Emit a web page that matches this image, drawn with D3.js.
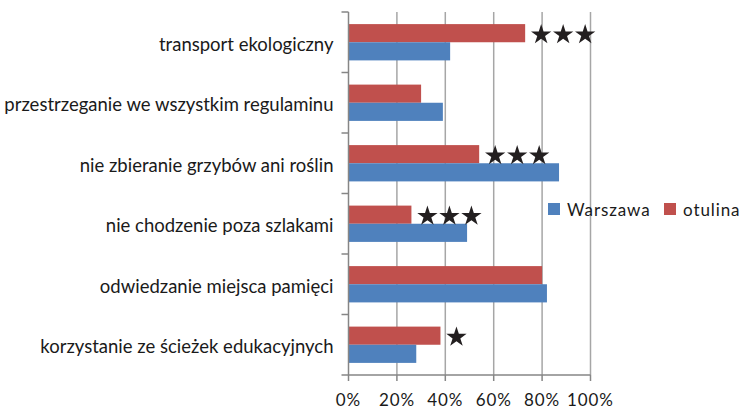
<!DOCTYPE html>
<html>
<head>
<meta charset="utf-8">
<script src="https://cdn.jsdelivr.net/npm/d3@7/dist/d3.min.js"></script>
<style>
  body { margin: 0; background: #fff; }
  svg text { font-family: Lato, "Open Sans", sans-serif; fill: #1a1a1a; letter-spacing: 0.9px; }
  svg text.cat { letter-spacing: 0; }
</style>
</head>
<body>
<div id="chart"></div>
<script>
// categories, top to bottom
var categories = [
  "transport ekologiczny",
  "przestrzeganie we wszystkim regulaminu",
  "nie zbieranie grzybów ani roślin",
  "nie chodzenie poza szlakami",
  "odwiedzanie miejsca pamięci",
  "korzystanie ze ścieżek edukacyjnych"
];
// series values (share of answers)
var warszawa = [0.42, 0.39, 0.87, 0.49, 0.82, 0.28];
var otulina  = [0.73, 0.30, 0.54, 0.26, 0.80, 0.38];
// significance stars per category
var stars = [3, 0, 3, 3, 0, 1];
var ticks = [0, 0.2, 0.4, 0.6, 0.8, 1.0];
var seriesNames = ["Warszawa", "otulina"];
var colors = ["#4f81bd", "#c0504d"];

var width = 740, height = 409;
var plotLeft = 348.5, plotRight = 590.5, plotTop = 12, plotBottom = 375;

var svg = d3.select("#chart").append("svg")
  .attr("width", width)
  .attr("height", height);

var x = d3.scaleLinear().domain([0, 1]).range([plotLeft, plotRight]);
var y = d3.scaleBand().domain(categories).range([plotTop, plotBottom])
  .paddingInner(0.4).paddingOuter(0.2);
var inner = d3.scaleBand().domain(["otulina", "Warszawa"]).range([0, y.bandwidth()]);

// gridlines
svg.append("g").selectAll("line")
  .data(ticks.slice(1))
  .enter().append("line")
  .attr("x1", function(d) { return x(d); })
  .attr("x2", function(d) { return x(d); })
  .attr("y1", plotTop).attr("y2", plotBottom)
  .attr("stroke", "#a6a6a6").attr("stroke-width", 1.5);

// bars
var rows = categories.map(function(c, i) {
  return { cat: c, w: warszawa[i], o: otulina[i], s: stars[i] };
});

var g = svg.append("g");
g.selectAll("rect.o").data(rows).enter().append("rect")
  .attr("x", x(0))
  .attr("y", function(d) { return y(d.cat) + inner("otulina"); })
  .attr("width", function(d) { return x(d.o) - x(0); })
  .attr("height", inner.bandwidth())
  .attr("fill", colors[1]);
g.selectAll("rect.w").data(rows).enter().append("rect")
  .attr("x", x(0))
  .attr("y", function(d) { return y(d.cat) + inner("Warszawa"); })
  .attr("width", function(d) { return x(d.w) - x(0); })
  .attr("height", inner.bandwidth())
  .attr("fill", colors[0]);

// stars next to red bars
var star = d3.symbol().type(d3.symbolStar).size(128);
rows.forEach(function(d) {
  for (var k = 0; k < d.s; k++) {
    svg.append("path")
      .attr("d", star)
      .attr("fill", "#231f20")
      .attr("transform", "translate(" + (x(d.o) + 16 + k * 22) + "," +
        (y(d.cat) + inner("otulina") + inner.bandwidth() / 2 + 1.5) + ")");
  }
});

// y axis
var yAxis = svg.append("g").attr("transform", "translate(" + plotLeft + ",0)");
yAxis.append("line").attr("x1", 0).attr("x2", 0).attr("y1", plotTop).attr("y2", plotBottom)
  .attr("stroke", "#868686").attr("stroke-width", 1.5);
var bounds = d3.range(categories.length + 1).map(function(i) { return plotTop + i * (plotBottom - plotTop) / categories.length; });
yAxis.selectAll("line.t").data(bounds).enter().append("line")
  .attr("x1", -7).attr("x2", 0)
  .attr("y1", function(d) { return d; }).attr("y2", function(d) { return d; })
  .attr("stroke", "#868686").attr("stroke-width", 1.5);
yAxis.selectAll("text").data(categories).enter().append("text")
  .attr("class", "cat")
  .attr("x", -15)
  .attr("y", function(d) { return y(d) + y.bandwidth() / 2 + 2; })
  .attr("dy", "0.35em")
  .attr("text-anchor", "end")
  .style("font-size", "18.5px")
  .text(function(d) { return d; });

// x axis
var xAxis = svg.append("g").attr("transform", "translate(0," + plotBottom + ")");
xAxis.append("line").attr("x1", plotLeft).attr("x2", plotRight).attr("y1", 0).attr("y2", 0)
  .attr("stroke", "#868686").attr("stroke-width", 1.5);
xAxis.selectAll("line.t").data(ticks).enter().append("line")
  .attr("x1", function(d) { return x(d); }).attr("x2", function(d) { return x(d); })
  .attr("y1", 0).attr("y2", 6)
  .attr("stroke", "#868686").attr("stroke-width", 1.5);
xAxis.selectAll("text").data(ticks).enter().append("text")
  .attr("x", function(d) { return x(d); })
  .attr("y", 30.5)
  .attr("text-anchor", "middle")
  .style("font-size", "17px")
  .text(d3.format(".0%"));

// legend
var legend = svg.append("g").attr("transform", "translate(548,203)");
var lx = [0, 116];
seriesNames.forEach(function(n, i) {
  legend.append("rect").attr("x", lx[i]).attr("y", 0).attr("width", 12).attr("height", 12)
    .attr("fill", colors[i]);
  legend.append("text").attr("x", lx[i] + 19).attr("y", 12.5)
    .style("font-size", "17px").text(n);
});
</script>
</body>
</html>
